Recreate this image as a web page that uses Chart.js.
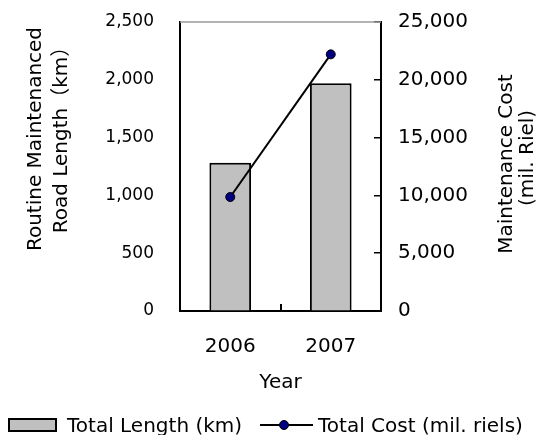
<!DOCTYPE html>
<html><head><meta charset="utf-8">
<script src="https://cdn.jsdelivr.net/npm/chart.js@4"></script>
<style>html,body{margin:0;padding:0;background:#fff}</style>
</head><body>
<canvas id="c" width="539" height="435"></canvas>
<script>
// ---- data ----
const years = ['2006', '2007'];
const lengthKm = [1283, 1970];
const costMilRiel = [9860, 22200];
const lengthTicks = [0, 500, 1000, 1500, 2000, 2500];
const costTicks = [0, 5000, 10000, 15000, 20000, 25000];
const leftTitle = ['Routine Maintenanced', 'Road Length\uFF08km\uFF09'];
const rightTitle = ['Maintenance Cost', '(mil. Riel)'];
const xTitle = 'Year';
const seriesNames = ['Total Length (km)', 'Total Cost (mil. riels)'];

const FONT = '"DejaVu Sans", "Noto Sans CJK JP", sans-serif';

function rotText(ctx, text, x, y) {
  ctx.save();
  ctx.translate(x, y);
  ctx.rotate(-Math.PI / 2);
  ctx.fillText(text, 0, 0);
  ctx.restore();
}

const decor = {
  id: 'decor',
  afterDraw(chart) {
    const {ctx, chartArea: a} = chart;
    ctx.save();
    // top frame line (grey)
    ctx.strokeStyle = '#9a9a9a';
    ctx.lineWidth = 1.5;
    ctx.beginPath();
    ctx.moveTo(a.left, a.top);
    ctx.lineTo(a.right, a.top);
    ctx.stroke();

    // axis titles
    ctx.fillStyle = '#000';
    ctx.font = '20px ' + FONT;
    ctx.textAlign = 'center';
    ctx.textBaseline = 'middle';
    rotText(ctx, leftTitle[0], 36, 139);
    rotText(ctx, leftTitle[1], 62, 135);
    rotText(ctx, rightTitle[0], 507, 164);
    rotText(ctx, rightTitle[1], 528, 158);

    // legend
    const barDs = chart.data.datasets[1];
    const lineDs = chart.data.datasets[0];
    ctx.fillStyle = barDs.backgroundColor;
    ctx.fillRect(9, 419, 47, 12);
    ctx.strokeStyle = barDs.borderColor;
    ctx.lineWidth = 2;
    ctx.strokeRect(9, 419, 47, 12);
    ctx.fillStyle = '#000';
    ctx.textAlign = 'left';
    ctx.textBaseline = 'alphabetic';
    ctx.fillText(seriesNames[0], 67, 432);

    ctx.strokeStyle = lineDs.borderColor;
    ctx.lineWidth = 2;
    ctx.beginPath();
    ctx.moveTo(260, 425);
    ctx.lineTo(313, 425);
    ctx.stroke();
    ctx.beginPath();
    ctx.arc(284, 425, 4.5, 0, Math.PI * 2);
    ctx.fillStyle = lineDs.pointBackgroundColor;
    ctx.fill();
    ctx.lineWidth = 1;
    ctx.strokeStyle = lineDs.pointBorderColor;
    ctx.stroke();
    ctx.fillStyle = '#000';
    ctx.fillText(seriesNames[1], 318, 432);
    ctx.restore();
  }
};

function noPad(s) { s.paddingTop = 0; s.paddingBottom = 0; s.paddingLeft = 0; s.paddingRight = 0; }

new Chart(document.getElementById('c'), {
  data: {
    labels: years,
    datasets: [
      {
        type: 'line', label: seriesNames[1], data: costMilRiel, yAxisID: 'y1',
        borderColor: '#000', borderWidth: 2, pointRadius: 4.5,
        pointBackgroundColor: '#000080', pointBorderColor: '#000', pointBorderWidth: 1,
        order: 0
      },
      {
        type: 'bar', label: seriesNames[0], data: lengthKm, yAxisID: 'y',
        backgroundColor: '#c0c0c0', borderColor: '#000', borderWidth: 2,
        categoryPercentage: 1, barPercentage: 0.415, order: 1
      }
    ]
  },
  options: {
    responsive: false, animation: false, devicePixelRatio: 1,
    layout: {padding: {top: 22, left: 0, right: 0, bottom: 0}},
    plugins: {legend: {display: false}, tooltip: {enabled: false}},
    scales: {
      x: {
        type: 'category', offset: true,
        grid: {offset: true, drawOnChartArea: false, drawTicks: true, tickLength: -7, color: '#000', lineWidth: 2},
        border: {color: '#000', width: 2},
        ticks: {font: {family: FONT, size: 20}, color: '#000', padding: 31},
        title: {display: true, text: xTitle, font: {family: FONT, size: 20}, color: '#000', padding: {top: 0, bottom: 40}},
        afterFit(s) { s.height = 124; noPad(s); }
      },
      y: {
        position: 'left', min: 0, max: 2500,
        afterBuildTicks(s) { s.ticks = lengthTicks.map(v => ({value: v})); },
        grid: {drawOnChartArea: false, drawTicks: false},
        border: {color: '#000', width: 2},
        ticks: {font: {family: FONT, size: 17}, color: '#000', padding: 26},
        afterFit(s) { s.width = 180; noPad(s); }
      },
      y1: {
        position: 'right', min: 0, max: 25000,
        afterBuildTicks(s) { s.ticks = costTicks.map(v => ({value: v})); },
        grid: {drawOnChartArea: false, drawTicks: true, tickLength: -7, color: '#000', lineWidth: 1.5},
        border: {color: '#000', width: 2},
        ticks: {font: {family: FONT, size: 20}, color: '#000', padding: 24},
        afterFit(s) { s.width = 158; noPad(s); }
      }
    }
  },
  plugins: [decor]
});
</script>
</body></html>
